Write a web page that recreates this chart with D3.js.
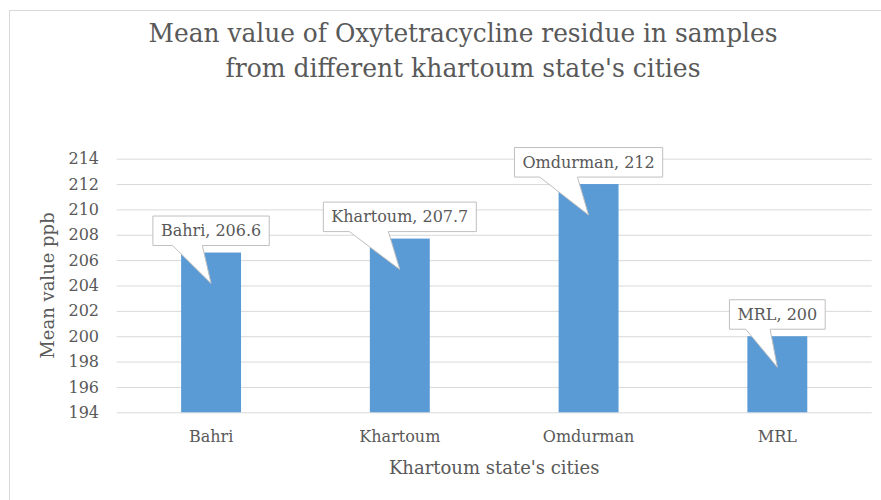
<!DOCTYPE html>
<html>
<head>
<meta charset="utf-8">
<script src="https://cdn.jsdelivr.net/npm/d3@7"></script>
<style>
  html, body { margin: 0; padding: 0; background: #ffffff; }
  svg text { font-family: "DejaVu Serif", "Liberation Serif", serif; fill: #595959; }
</style>
</head>
<body>
<div id="chart"></div>
<script>
const categories = ['Bahri', 'Khartoum', 'Omdurman', 'MRL'];
const meanValues = [206.6, 207.7, 212, 200];
const yTicks = [194, 196, 198, 200, 202, 204, 206, 208, 210, 212, 214];
const titleLines = ['Mean value of Oxytetracycline residue in samples', "from different khartoum state's cities"];
const xTitle = "Khartoum state's cities";
const yTitle = 'Mean value ppb';

const width = 881, height = 500;
const plot = { left: 116.7, right: 871.7, top: 158.7, bottom: 412.3 };

const svg = d3.select('#chart').append('svg')
    .attr('width', width)
    .attr('height', height);

// chart area border (only top and left visible in the crop)
svg.append('rect')
    .attr('x', 9.5).attr('y', 10.5)
    .attr('width', 920).attr('height', 540)
    .style('fill', 'none')
    .style('stroke', '#d9d9d9')
    .style('stroke-width', '1px');

const x = d3.scaleBand()
    .domain(categories)
    .range([plot.left, plot.right])
    .padding(0);

const y = d3.scaleLinear()
    .domain([yTicks[0], yTicks[yTicks.length - 1]])
    .range([plot.bottom, plot.top]);

const barWidth = x.bandwidth() / 3.15;

// gridlines + tick labels
const yAxis = d3.axisLeft(y)
    .tickValues(yTicks)
    .tickSize(-(plot.right - plot.left))
    .tickPadding(17.7)
    .tickFormat(d3.format('d'));

const yg = svg.append('g')
    .attr('transform', `translate(${plot.left},0)`)
    .call(yAxis);
yg.select('.domain').remove();
yg.selectAll('.tick line')
    .style('stroke', '#d9d9d9')
    .style('stroke-width', '1px');
yg.selectAll('.tick text')
    .style('font-size', '16px')
    .style('fill', '#595959')
    .style('font-family', '"DejaVu Serif", serif');

// bars
svg.append('g').selectAll('rect')
    .data(categories)
    .join('rect')
    .attr('x', d => x(d) + (x.bandwidth() - barWidth) / 2)
    .attr('y', (d, i) => y(meanValues[i]))
    .attr('width', barWidth)
    .attr('height', (d, i) => y(yTicks[0]) - y(meanValues[i]))
    .style('fill', '#5b9bd5');

// category labels
const xAxis = d3.axisBottom(x).tickSize(0).tickPadding(0);
const xg = svg.append('g')
    .attr('transform', `translate(0,${plot.bottom})`)
    .call(xAxis);
xg.select('.domain').remove();
xg.selectAll('.tick text')
    .attr('y', 0)
    .attr('dy', 0)
    .attr('transform', 'translate(0,29.7)')
    .style('font-size', '16px')
    .style('fill', '#595959')
    .style('font-family', '"DejaVu Serif", serif');

// data callouts
const calloutGroup = svg.append('g');
categories.forEach((cat, i) => {
    const cx = x(cat) + x.bandwidth() / 2;
    const top = y(meanValues[i]);
    const boxBottom = top - 7;
    const boxTop = boxBottom - 29.5;
    const g = calloutGroup.append('g');
    const path = g.append('path');
    const label = g.append('text')
        .attr('x', cx)
        .attr('y', boxBottom - 9.3)
        .attr('text-anchor', 'middle')
        .style('font-size', '16px')
        .text(`${cat}, ${meanValues[i]}`);
    const w = label.node().getComputedTextLength() + 16;
    const left = cx - w / 2, right = cx + w / 2;
    const baseL = cx - 0.33 * w, baseR = cx - 0.075 * w;
    const tipY = boxBottom + 38;
    path.attr('d', `M${left},${boxTop}H${right}V${boxBottom}H${baseR}L${cx},${tipY}L${baseL},${boxBottom}H${left}Z`)
        .style('fill', '#ffffff')
        .style('stroke', '#bfbfbf')
        .style('stroke-width', '1px');
});

// title
const titleWidths = [629, 475];
titleLines.forEach((line, i) => {
    svg.append('text')
        .attr('x', 463)
        .attr('y', 42 + i * 35)
        .attr('text-anchor', 'middle')
        .attr('textLength', titleWidths[i])
        .attr('lengthAdjust', 'spacingAndGlyphs')
        .style('font-size', '26px')
        .text(line);
});

// axis titles
svg.append('text')
    .attr('x', (plot.left + plot.right) / 2)
    .attr('y', 474)
    .attr('text-anchor', 'middle')
    .style('font-size', '18px')
    .text(xTitle);

svg.append('text')
    .attr('transform', `translate(54,${(plot.top + plot.bottom) / 2}) rotate(-90)`)
    .attr('text-anchor', 'middle')
    .style('font-size', '18px')
    .text(yTitle);
</script>
</body>
</html>
